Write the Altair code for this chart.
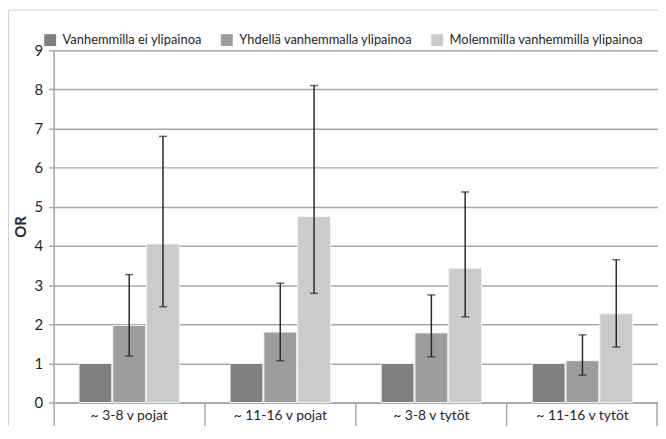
import altair as alt
import pandas as pd

categories = ["~ 3-8 v pojat", "~ 11-16 v pojat", "~ 3-8 v tytöt", "~ 11-16 v tytöt"]
series = ["Vanhemmilla ei ylipainoa", "Yhdellä vanhemmalla ylipainoa", "Molemmilla vanhemmilla ylipainoa"]
colors = ["#808080", "#9d9d9d", "#cbcbcb"]

val_none = [1.0, 1.0, 1.0, 1.0]
val_one = [1.97, 1.80, 1.78, 1.07]
val_both = [4.05, 4.75, 3.43, 2.27]
lo_one = [1.19, 1.07, 1.17, 0.70]
hi_one = [3.27, 3.05, 2.75, 1.73]
lo_both = [2.45, 2.79, 2.19, 1.42]
hi_both = [6.80, 8.10, 5.38, 3.65]

y_ticks = list(range(10))

rows = []
for i, c in enumerate(categories):
    rows.append({"cat": c, "series": series[0], "value": val_none[i]})
    rows.append({"cat": c, "series": series[1], "value": val_one[i], "lo": lo_one[i], "hi": hi_one[i]})
    rows.append({"cat": c, "series": series[2], "value": val_both[i], "lo": lo_both[i], "hi": hi_both[i]})
df = pd.DataFrame(rows)
err = df.dropna(subset=["lo"])

W, H = 609, 355
GRID = "#a8a8a8"
TXT = "#262626"

xscale = alt.Scale(domain=categories, paddingInner=0, paddingOuter=0)
yscale = alt.Scale(domain=[0, 9], nice=False, zero=True)
yaxis = alt.Axis(values=y_ticks, tickCount=10, grid=True, gridColor=GRID, gridWidth=1.5,
                 domainColor=GRID, domainWidth=1.5, tickColor=GRID, tickWidth=1.5,
                 tickSize=5, labelFontSize=15, labelColor=TXT, labelPadding=6,
                 labelFont="Lato", title="OR", titleFont="Lato", titleFontSize=15,
                 titleFontWeight="bold", titleColor=TXT, titlePadding=6)
xaxis = alt.Axis(labels=False, title=None, bandPosition=0, tickSize=31,
                 tickColor=GRID, tickWidth=1.5, domainColor=GRID, domainWidth=1.5)
xoff = alt.XOffset("series:N", scale=alt.Scale(domain=series, paddingInner=0.03, paddingOuter=0.75))
xe = alt.X("cat:N", scale=xscale, sort=categories, axis=xaxis)

bars = alt.Chart(df).mark_bar(stroke="#f2f2f2", strokeWidth=1).encode(
    x=xe,
    xOffset=xoff,
    y=alt.Y("value:Q", scale=yscale, axis=yaxis),
    color=alt.Color("series:N", scale=alt.Scale(domain=series, range=colors),
                    legend=alt.Legend(orient="none", legendX=-10, legendY=-17, direction="horizontal",
                                      title=None, symbolType="square", symbolSize=144,
                                      symbolStrokeWidth=0, labelFontSize=13, labelFont="Lato",
                                      labelColor=TXT, labelLimit=400, columnPadding=18,
                                      labelOffset=6, padding=0)),
)

rules = alt.Chart(err).mark_rule(color="#2a2a2a", strokeWidth=1.5).encode(
    x=xe, xOffset=xoff, y=alt.Y("lo:Q", scale=yscale, axis=yaxis), y2="hi:Q")
cap_lo = alt.Chart(err).mark_tick(color="#2a2a2a", thickness=1.5, size=8, orient="horizontal").encode(
    x=xe, xOffset=xoff, y=alt.Y("lo:Q", scale=yscale, axis=yaxis))
cap_hi = alt.Chart(err).mark_tick(color="#2a2a2a", thickness=1.5, size=8, orient="horizontal").encode(
    x=xe, xOffset=xoff, y=alt.Y("hi:Q", scale=yscale, axis=yaxis))

labels = alt.Chart(pd.DataFrame({"cat": categories})).mark_text(
    fontSize=14, font="Lato", color=TXT, baseline="middle").encode(
    x=xe, y=alt.value(H + 14), text="cat:N")

right_edge = alt.Chart(pd.DataFrame({"cat": categories[-1:]})).mark_rule(
    color=GRID, strokeWidth=1.5, xOffset=-1).encode(
    x=alt.X("cat:N", scale=xscale, sort=categories, axis=xaxis, bandPosition=1),
    y=alt.value(H), y2=alt.value(H + 31))
frame_top = alt.Chart(pd.DataFrame({"a": [0]})).mark_rule(color="#d4d4d4", strokeWidth=1).encode(
    x=alt.value(-45.5), x2=alt.value(W), y=alt.value(-40.5))
frame_left = alt.Chart(pd.DataFrame({"a": [0]})).mark_rule(color="#d4d4d4", strokeWidth=1).encode(
    x=alt.value(-45.5), y=alt.value(-40.5), y2=alt.value(H + 33))

chart = alt.layer(frame_top, frame_left, bars, rules, cap_lo, cap_hi, labels, right_edge).properties(
    width=W, height=H,
    autosize=alt.AutoSizeParams(type="none"),
    padding={"left": 46, "top": 41, "right": 0, "bottom": 22},
).configure_view(stroke=None).configure(background="white")

chart.save("out.html", embed_options={"renderer": "svg", "actions": False})
